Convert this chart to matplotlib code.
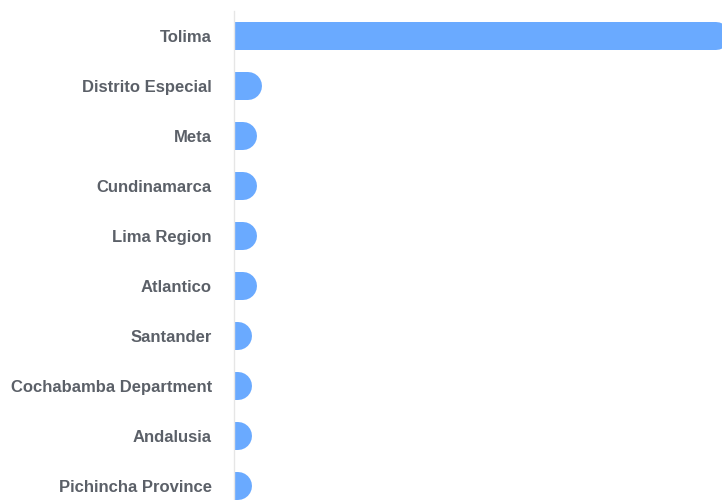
import matplotlib
matplotlib.use("Agg")
import matplotlib.pyplot as plt

categories = ["Tolima", "Distrito Especial", "Meta", "Cundinamarca", "Lima Region",
              "Atlantico", "Santander", "Cochabamba Department", "Andalusia", "Pichincha Province"]
values = [108, 6, 5, 5, 5, 5, 4, 4, 4, 4]

W, H = 722, 500
fig = plt.figure(figsize=(W / 100, H / 100), dpi=100)
left_px, top_px, band_px = 234, 11, 50
n = len(categories)
ax_h = band_px * n
ax_w = 490
ax = fig.add_axes([left_px / W, (H - top_px - ax_h) / H, ax_w / W, ax_h / H])
ax.set_xlim(0, 106.6)
ax.set_ylim(n - 0.5, -0.5)

bar_color = "#6aaaff"
bar_px = 28
lw_pt = bar_px * 72 / 100
fig.canvas.draw()
px_per_unit = ax.transData.transform((1, 0))[0] - ax.transData.transform((0, 0))[0]
r_data = (bar_px / 2) / px_per_unit
for i, v in enumerate(values):
    ax.plot([-r_data * 2, v - r_data], [i, i], color=bar_color, lw=lw_pt,
            solid_capstyle="round", clip_on=True)

ax.set_yticks(range(n))
ax.set_yticklabels(categories, fontsize=12, fontweight="bold", color="#5b6068",
                   family="Liberation Sans")
ax.tick_params(axis="y", length=0, pad=16)
ax.set_xticks([])
for s in ["top", "right", "bottom"]:
    ax.spines[s].set_visible(False)
ax.spines["left"].set_color("#e6e6e6")
ax.spines["left"].set_linewidth(1)
ax.set_facecolor("white")
fig.savefig("out.png", dpi=100)
